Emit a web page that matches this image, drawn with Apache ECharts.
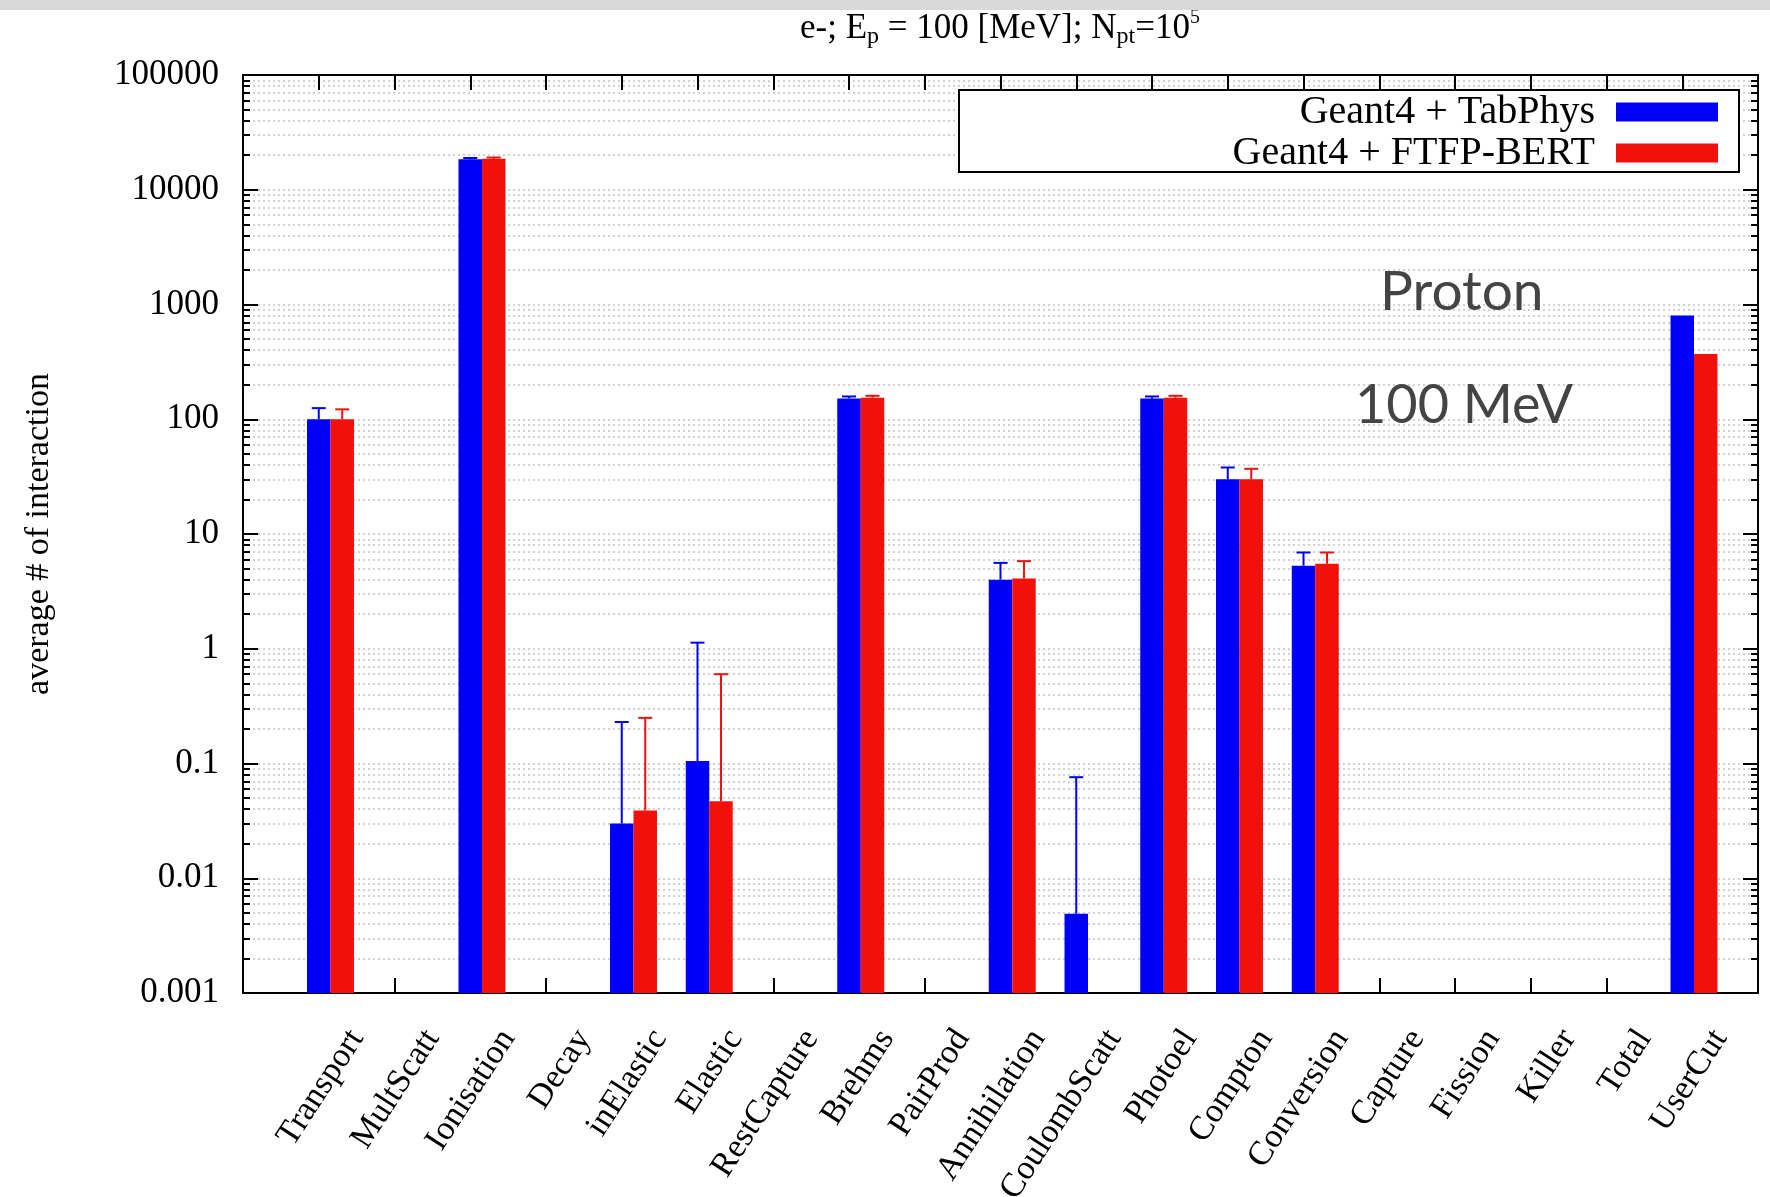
<!DOCTYPE html>
<html>
<head>
<meta charset="utf-8">
<script src="https://cdn.jsdelivr.net/npm/echarts@6/dist/echarts.min.js"></script>
<style>
  html, body { margin: 0; padding: 0; background: #fff; }
  #chart { width: 1770px; height: 1197px; }
</style>
</head>
<body>
<div id="chart"></div>
<script>
'use strict';

var categories = ['Transport', 'MultScatt', 'Ionisation', 'Decay', 'inElastic', 'Elastic', 'RestCapture',
  'Brehms', 'PairProd', 'Annihilation', 'CoulombScatt', 'Photoel', 'Compton', 'Conversion',
  'Capture', 'Fission', 'Killer', 'Total', 'UserCut'];

// average # of interaction, null = nothing drawn
var tabPhys = [100, null, 18400, null, 0.030, 0.105, null, 152, null, 4.0, 0.0049, 152, 30, 5.3,
  null, null, null, null, 800];
var tabPhysUpper = [125, null, 18900, null, 0.23, 1.13, null, 158, null, 5.6, 0.076, 158, 38, 6.9,
  null, null, null, null, null];
var ftfpBert = [100, null, 18600, null, 0.039, 0.047, null, 154, null, 4.1, null, 154, 30, 5.5,
  null, null, null, null, 370];
var ftfpBertUpper = [122, null, 19100, null, 0.25, 0.60, null, 160, null, 5.8, null, 160, 37, 6.9,
  null, null, null, null, null];

var yTickLabels = ['0.001', '0.01', '0.1', '1', '10', '100', '1000', '10000', '100000'];

var serif = 'Liberation Serif';
var blue = '#0000f8';
var red = '#f2100a';
var barW = 0.31;
var labelShift = 0.5;

function makeBars(name, color, values, upper, left) {
  var data = [];
  values.forEach(function (v, i) {
    if (v != null) {
      data.push([i, v, upper[i] == null ? v : upper[i]]);
    }
  });
  return {
    name: name,
    type: 'custom',
    z: 3,
    xAxisIndex: 0,
    yAxisIndex: 0,
    itemStyle: {color: color},
    encode: {x: 0, y: [1, 2]},
    data: data,
    renderItem: function (params, api) {
      var i = api.value(0), v = api.value(1), hi = api.value(2);
      var p0 = api.coord([i + left, v]);
      var p1 = api.coord([i + left + barW, 0.001]);
      var cx = (p0[0] + p1[0]) / 2;
      var pHi = api.coord([i, hi]);
      var children = [{
        type: 'rect',
        shape: {x: p0[0], y: p0[1], width: p1[0] - p0[0], height: p1[1] - p0[1]},
        style: {fill: color}
      }];
      if (hi > v) {
        children.push({type: 'line', shape: {x1: cx, y1: p0[1], x2: cx, y2: pHi[1]},
          style: {stroke: color, lineWidth: 2}});
        children.push({type: 'line', shape: {x1: cx - 7, y1: pHi[1], x2: cx + 7, y2: pHi[1]},
          style: {stroke: color, lineWidth: 2}});
      }
      return {type: 'group', children: children};
    }
  };
}

var tickStyle = {color: '#000', width: 2};
function xFrameAxis(pos) {
  return {
    type: 'value', position: pos, min: -1, max: 19, interval: 1,
    axisLine: {show: true, onZero: false, lineStyle: tickStyle},
    axisTick: {show: true, inside: true, length: 15, lineStyle: tickStyle},
    axisLabel: {show: false},
    splitLine: {show: false}
  };
}
function yFrameAxis(pos, withLabels) {
  return {
    type: 'log', logBase: 10, position: pos, min: 0.001, max: 100000, splitNumber: 8,
    name: withLabels ? 'average # of interaction' : '',
    nameLocation: 'middle', nameRotate: 90, nameGap: 187,
    nameTextStyle: {fontFamily: serif, fontSize: 34, color: '#000'},
    axisLine: {show: true, onZero: false, lineStyle: tickStyle},
    axisTick: {show: true, inside: true, length: 15, lineStyle: tickStyle},
    minorTick: {show: true, splitNumber: 9, length: 7, lineStyle: {color: '#000', width: 2}},
    axisLabel: {
      show: withLabels, fontFamily: serif, fontSize: 35, color: '#000', margin: 24,
      formatter: function (v) { return yTickLabels[Math.round(Math.log10(v)) + 3]; }
    },
    splitLine: {show: withLabels, lineStyle: {color: '#c4c4c4', width: 1.5, type: [2, 3]}},
    minorSplitLine: {show: withLabels, lineStyle: {color: '#c4c4c4', width: 1.5, type: [2, 3]}}
  };
}

var legendText = {fontFamily: serif, fontSize: 40, color: '#000', lineHeight: 40, padding: [0, 16, 0, 0]};

var option = {
  backgroundColor: '#fff',
  animation: false,
  title: {
    left: 795, top: 3,
    text: '{a|e-; E}{s|p}{a| = 100 [MeV]; N}{s|pt}{a|=10}{u|5}',
    textStyle: {
      fontWeight: 'normal',
      rich: {
        a: {fontFamily: serif, fontSize: 35, fontWeight: 'normal', color: '#000'},
        s: {fontFamily: serif, fontSize: 24, fontWeight: 'normal', color: '#000', padding: [15, 0, 0, 0]},
        u: {fontFamily: serif, fontSize: 20, fontWeight: 'normal', color: '#000', padding: [0, 0, 22, 0]}
      }
    }
  },
  legend: [
    {data: ['Geant4 + TabPhys'], right: 52, top: 92, align: 'right', icon: 'rect',
      itemWidth: 102, itemHeight: 19, padding: 0, textStyle: legendText},
    {data: ['Geant4 + FTFP-BERT'], right: 52, top: 133, align: 'right', icon: 'rect',
      itemWidth: 102, itemHeight: 19, padding: 0, textStyle: legendText}
  ],
  grid: {left: 243, top: 75, right: 12, bottom: 204, show: false,
    containLabel: false, outerBoundsMode: 'none'},
  xAxis: [
    xFrameAxis('bottom'),
    xFrameAxis('top'),
    {
      type: 'value', position: 'bottom', min: -1 - labelShift, max: 19 - labelShift,
      axisLine: {show: false, onZero: false}, axisTick: {show: false}, splitLine: {show: false},
      axisLabel: {
        show: true, rotate: 57, margin: 40, fontFamily: serif, fontSize: 34, color: '#000',
        customValues: categories.map(function (c, i) { return i; }),
        formatter: function (v) { return categories[Math.round(v)] || ''; }
      }
    }
  ],
  yAxis: [yFrameAxis('left', true), yFrameAxis('right', false)],
  graphic: [
    {type: 'rect', z: 3, shape: {x: 959, y: 90, width: 780, height: 82},
      style: {fill: '#fff', stroke: '#000', lineWidth: 2}},
    {type: 'rect', z: 10, shape: {x: 0, y: 0, width: 1770, height: 10}, style: {fill: '#d9d9d9'}},
    {type: 'text', z: 10, x: 1380, y: 292,
      style: {text: 'Proton', fontFamily: 'Lato', fontSize: 55, fill: '#444', verticalAlign: 'middle'}},
    {type: 'text', z: 10, x: 1355, y: 406,
      style: {text: '100 MeV', fontFamily: 'Lato', fontSize: 54, fill: '#444', verticalAlign: 'middle'}}
  ],
  series: [
    makeBars('Geant4 + TabPhys', blue, tabPhys, tabPhysUpper, -barW / 2),
    makeBars('Geant4 + FTFP-BERT', red, ftfpBert, ftfpBertUpper, barW / 2)
  ]
};

var chart = echarts.init(document.getElementById('chart'));
chart.setOption(option);
</script>
</body>
</html>
